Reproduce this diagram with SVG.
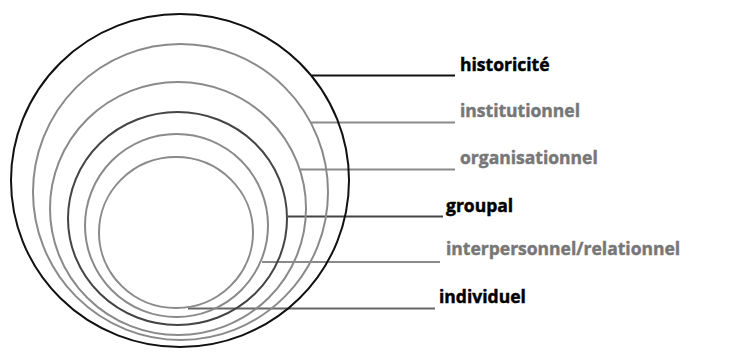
<svg xmlns="http://www.w3.org/2000/svg" width="733" height="357" viewBox="0 0 733 357">
<style>
  .ring { fill: none; stroke-width: 2; }
  .dark { stroke: #111; }
  .mid { stroke: #444; }
  .light { stroke: #8a8a8a; }
  .lead { fill: none; stroke-width: 2; }
  .lg2 { stroke: #666; }
  .lbl { font-family: "Open Sans", "Liberation Sans", sans-serif; font-weight: 700; font-size: 17.5px; stroke-width: 0.45px; font-variant-ligatures: none; }
  .lb { fill: #000; stroke: #000; }
  .lg { fill: #777; stroke: #777; }
</style>
<rect width="733" height="357" fill="#fff"/>
<g id="connectors">
  <line class="lead dark" x1="312" y1="75.5" x2="455" y2="75.5"/>
  <line class="lead light" x1="310" y1="122.5" x2="455" y2="122.5"/>
  <line class="lead light" x1="300" y1="169.5" x2="455" y2="169.5"/>
  <line class="lead mid" x1="288" y1="216.5" x2="443" y2="216.5"/>
  <line class="lead light" x1="262" y1="262" x2="440" y2="262"/>
  <line class="lead lg2" x1="188" y1="308.5" x2="435" y2="308.5"/>
</g>
<g id="historicite">
  <ellipse class="ring dark" cx="180" cy="180.5" rx="169" ry="166.5"/>
  <text class="lbl lb" x="460" y="71">historicité</text>
</g>
<g id="institutionnel">
  <ellipse class="ring light" cx="180.5" cy="192" rx="147.5" ry="148"/>
  <text class="lbl lg" x="460" y="117">institutionnel</text>
</g>
<g id="organisationnel">
  <ellipse class="ring light" cx="178" cy="208.5" rx="128" ry="126.5"/>
  <text class="lbl lg" x="460" y="164">organisationnel</text>
</g>
<g id="groupal">
  <ellipse class="ring mid" cx="177.5" cy="218.5" rx="109.5" ry="106.5"/>
  <text class="lbl lb" x="446" y="212">groupal</text>
</g>
<g id="interpersonnel">
  <ellipse class="ring light" cx="176.5" cy="225.5" rx="91.5" ry="91.5"/>
  <text class="lbl lg" x="446" y="255">interpersonnel/relationnel</text>
</g>
<g id="individuel">
  <ellipse class="ring light" cx="176" cy="232.5" rx="77" ry="75.5"/>
  <text class="lbl lb" x="439" y="303">individuel</text>
</g>
</svg>
